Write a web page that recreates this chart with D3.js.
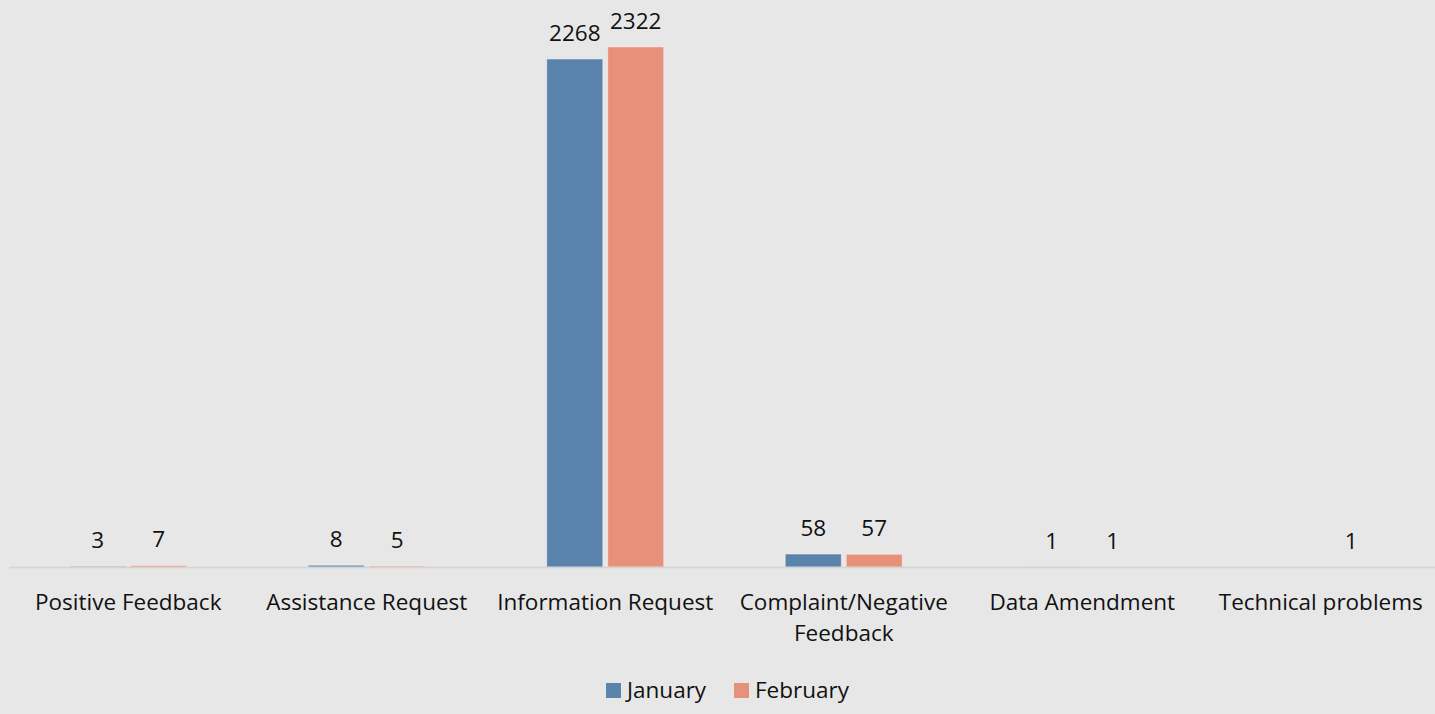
<!DOCTYPE html>
<html>
<head>
<meta charset="utf-8">
<script src="https://cdn.jsdelivr.net/npm/d3@7"></script>
<style>
body { margin: 0; background: #e7e7e7; }
svg text { font-family: "Open Sans", Lato, sans-serif; fill: #111; }
</style>
</head>
<body>
<svg id="mysvg" width="1435" height="714"></svg>
<script>
var categories = ["Positive Feedback", "Assistance Request", "Information Request", "Complaint/Negative Feedback", "Data Amendment", "Technical problems"];
var seriesNames = ["January", "February"];
var january = [3, 8, 2268, 58, 1, null];
var february = [7, 5, 2322, 57, 1, 1];
var colors = ["#5b84ad", "#e8917a"];

var svg = d3.select("#mysvg");
var plotTop = 7, plotBottom = 567, plotLeft = 9, plotRight = 1440;
var fontSize = "22.5px";

svg.append("rect").attr("width", 1435).attr("height", 714).attr("fill", "#e7e7e7");

var x = d3.scaleBand().domain(categories).range([plotLeft, plotRight]);
var bw = x.bandwidth();
var x1 = d3.scaleBand().domain(seriesNames).range([bw / 2 - 58.5, bw / 2 + 58.5]).paddingInner(0.08);
var y = d3.scaleLinear().domain([0, 2500]).range([plotBottom, plotTop]);

var allData = [january, february];

for (var s = 0 ; s < seriesNames.length ; ++s) {
	var g = svg.append("g");
	var rows = categories.map(function (c, i) { return { cat: c, v: allData[s][i] }; })
		.filter(function (d) { return d.v !== null; });
	var name = seriesNames[s];
	g.selectAll("rect").data(rows).enter().append("rect")
		.attr("x", function (d) { return x(d.cat) + x1(name); })
		.attr("y", function (d) { return y(d.v); })
		.attr("width", x1.bandwidth())
		.attr("height", function (d) { return plotBottom - y(d.v); })
		.attr("fill", colors[s])
		.attr("stroke", "rgba(255,255,255,0.45)")
		.attr("stroke-width", 1);
	g.selectAll("text").data(rows).enter().append("text")
		.attr("x", function (d) { return x(d.cat) + x1(name) + x1.bandwidth() / 2; })
		.attr("y", function (d) { return y(d.v) - 18; })
		.attr("text-anchor", "middle")
		.attr("font-size", fontSize)
		.text(function (d) { return d.v; });
}

// axis line
svg.append("line")
	.attr("x1", plotLeft).attr("x2", 1435)
	.attr("y1", plotBottom + 0.5).attr("y2", plotBottom + 0.5)
	.attr("stroke", "#d4d4d4").attr("stroke-width", 1.5);

// category labels, wrap the long one
var xLabels = svg.append("g");
categories.forEach(function (c) {
	var lines = c === "Complaint/Negative Feedback" ? ["Complaint/Negative", "Feedback"] : [c];
	var t = xLabels.append("text")
		.attr("x", x(c) + bw / 2)
		.attr("y", 610)
		.attr("text-anchor", "middle")
		.attr("font-size", fontSize);
	lines.forEach(function (l, k) {
		t.append("tspan").attr("x", x(c) + bw / 2).attr("dy", k === 0 ? 0 : 31).text(l);
	});
});

// legend
var legend = svg.append("g");
var legX = [606, 734];
for (var s = 0 ; s < seriesNames.length ; ++s) {
	legend.append("rect")
		.attr("x", legX[s]).attr("y", 683)
		.attr("width", 15).attr("height", 15)
		.attr("fill", colors[s]);
	legend.append("text")
		.attr("x", legX[s] + 21).attr("y", 698)
		.attr("font-size", fontSize)
		.text(seriesNames[s]);
}
</script>
</body>
</html>
